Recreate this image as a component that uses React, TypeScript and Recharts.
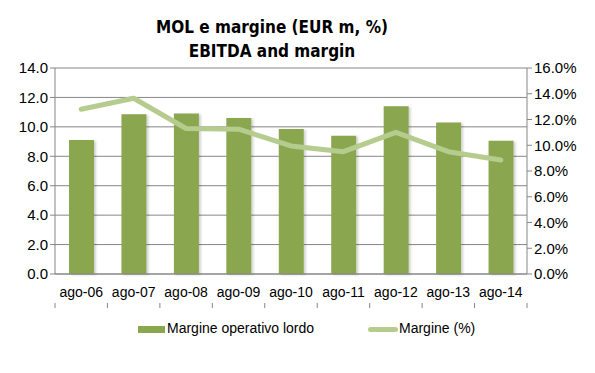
import { ComposedChart, Bar, Line, XAxis, YAxis, CartesianGrid, Legend } from 'recharts';

const periods = ['ago-06', 'ago-07', 'ago-08', 'ago-09', 'ago-10', 'ago-11', 'ago-12', 'ago-13', 'ago-14'];
const mol = [9.1, 10.85, 10.9, 10.6, 9.85, 9.4, 11.4, 10.3, 9.05];
const margin = [12.8, 13.65, 11.3, 11.25, 9.95, 9.5, 11.0, 9.5, 8.85];
const leftTicks = [0, 2, 4, 6, 8, 10, 12, 14];
const rightTicks = [0, 2, 4, 6, 8, 10, 12, 14, 16];
const edgeTicks = [0, 1, 2, 3, 4, 5, 6, 7, 8, 9];

const data = periods.map((p, i) => ({ name: p, mol: mol[i], margin: margin[i], pos: i + 0.5 }));

const BAR = '#8AA64F';
const LINE = '#B5CC8E';
const AXIS = '#868686';
const FONT = 'Arial, "Liberation Sans", sans-serif';

const LegendBox = () => (
    <div style={{ position: 'relative', height: 69, fontFamily: FONT, fontSize: 14, color: '#000' }}>
        <div style={{ position: 'absolute', left: 138, top: 22, width: 27, height: 7, background: BAR }} />
        <span style={{ position: 'absolute', left: 167, top: 16 }}>Margine operativo lordo</span>
        <div style={{ position: 'absolute', left: 368, top: 23, width: 30, height: 5, borderRadius: 3, background: LINE }} />
        <span style={{ position: 'absolute', left: 399, top: 16 }}>Margine (%)</span>
    </div>
);

export default function App() {
    return (
        <div style={{ position: 'absolute', left: 0, top: 0, width: 595, height: 373, background: '#fff' }}>
            <div
                style={{
                    position: 'absolute', left: 0, top: 15, width: 544, textAlign: 'center',
                    fontFamily: '"Liberation Sans Narrow", "DejaVu Sans Condensed", Arial, sans-serif',
                    fontWeight: 'bold', fontSize: 17, lineHeight: '24px', color: '#000', zIndex: 2
                }}
            >
                MOL e margine (EUR m, %)<br />EBITDA and margin
            </div>
            <ComposedChart width={595} height={373} data={data} margin={{ top: 68, right: 0, left: 0, bottom: 0 }}>
                <defs>
                    <filter id="barShadow" x="-20%" y="-5%" width="150%" height="110%">
                        <feDropShadow dx="2" dy="1" stdDeviation="1" floodColor="#000" floodOpacity="0.18" />
                    </filter>
                </defs>
                <CartesianGrid vertical={false} stroke={AXIS} yAxisId="left" xAxisId="cat" />
                <XAxis
                    xAxisId="edges"
                    type="number"
                    dataKey="pos"
                    domain={[0, 9]}
                    ticks={edgeTicks}
                    allowDataOverflow
                    height={1}
                    tick={() => <g />}
                    axisLine={false}
                    tickLine={{ stroke: AXIS }}
                    tickSize={5}
                />
                <XAxis
                    xAxisId="cat"
                    dataKey="name"
                    height={29}
                    interval={0}
                    tickLine={false}
                    axisLine={{ stroke: AXIS }}
                    tick={{ fill: '#000', fontSize: 14, fontFamily: FONT }}
                    dy={5}
                />
                <YAxis
                    yAxisId="left"
                    width={55}
                    domain={[0, 14]}
                    ticks={leftTicks}
                    tickFormatter={(v: number) => v.toFixed(1)}
                    axisLine={{ stroke: AXIS }}
                    tickLine={{ stroke: AXIS }}
                    tickSize={5}
                    tick={{ fill: '#000', fontSize: 15, fontFamily: FONT }}
                />
                <YAxis
                    yAxisId="right"
                    orientation="right"
                    width={68}
                    domain={[0, 16]}
                    ticks={rightTicks}
                    tickFormatter={(v: number) => v.toFixed(1) + '%'}
                    axisLine={{ stroke: AXIS }}
                    tickLine={{ stroke: AXIS }}
                    tickSize={5}
                    tick={{ fill: '#000', fontSize: 15, fontFamily: FONT }}
                />
                <Bar
                    xAxisId="cat"
                    yAxisId="left"
                    dataKey="mol"
                    name="Margine operativo lordo"
                    fill={BAR}
                    barSize={25}
                    filter="url(#barShadow)"
                    isAnimationActive={false}
                />
                <Line
                    xAxisId="cat"
                    yAxisId="right"
                    dataKey="margin"
                    name="Margine (%)"
                    stroke={LINE}
                    strokeWidth={5}
                    strokeLinecap="round"
                    strokeLinejoin="round"
                    dot={false}
                    activeDot={false}
                    type="linear"
                    isAnimationActive={false}
                />
                <Legend verticalAlign="bottom" height={69} content={() => <LegendBox />} />
            </ComposedChart>
        </div>
    );
}
